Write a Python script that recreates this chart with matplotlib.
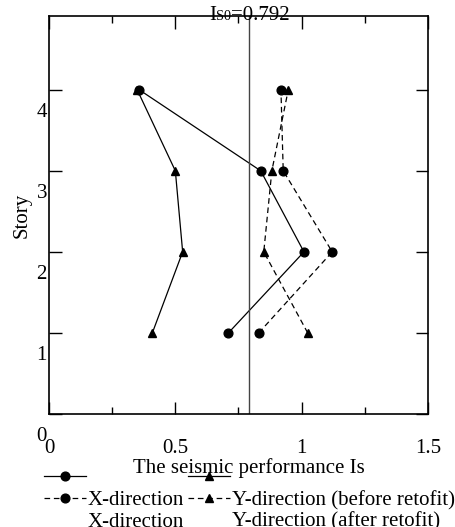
import matplotlib
matplotlib.use("Agg")
import matplotlib.pyplot as plt
from matplotlib.lines import Line2D
from matplotlib.transforms import ScaledTranslation, blended_transform_factory
from matplotlib.offsetbox import TextArea, HPacker, AnnotationBbox

plt.rcParams['font.family'] = ['Liberation Serif', 'DejaVu Serif']

# ---- data ----
stories = [1, 2, 3, 4]
x_before = [0.830, 1.121, 0.927, 0.918]
y_before = [1.024, 0.850, 0.882, 0.947]
x_after = [0.710, 1.009, 0.838, 0.357]
y_after = [0.409, 0.529, 0.500, 0.349]
is0 = 0.792
xtick_major = [0, 0.5, 1, 1.5]
xtick_labels = ["0", "0.5", "1", "1.5"]
xtick_minor = [0.25, 0.75, 1.25]
ytick_vals = [0, 1, 2, 3, 4]
ytick_labels = ["0", "1", "2", "3", "4"]

FS = 15

fig = plt.figure(figsize=(4.56, 5.27), dpi=100)
ax = fig.add_axes([49/456, 113/527, 379/456, 398/527])
ax.set_xlim(0, 1.5)
ax.set_ylim(0, 4.91)

ms = 6.3
lw = 0.9
dash = (0, (4.5, 3))
h1, = ax.plot(x_after, stories, color='black', lw=lw, marker='o', ms=ms)
h2, = ax.plot(y_after, stories, color='black', lw=lw, marker='^', ms=ms)
h3, = ax.plot(x_before, stories, color='black', lw=lw, ls=dash, marker='o', ms=ms)
h4, = ax.plot(y_before, stories, color='black', lw=lw, ls=dash, marker='^', ms=ms)

ax.axvline(is0, color='#444444', lw=1.0)

# title Is0
parts = HPacker(children=[TextArea("I", textprops=dict(fontsize=FS)),
                          TextArea("S0", textprops=dict(fontsize=FS*0.68)),
                          TextArea("=0.792", textprops=dict(fontsize=FS))],
                align="baseline", pad=0, sep=0)
ab = AnnotationBbox(parts, (is0, 1.0), xycoords=('data', 'axes fraction'),
                    box_alignment=(0.5, 0.5), frameon=False, pad=0)
ax.add_artist(ab)

for s in ax.spines.values():
    s.set_linewidth(1.2)

ax.set_xticks(xtick_major)
ax.set_xticklabels(xtick_labels, fontsize=FS)
ax.set_xticks(xtick_minor, minor=True)
ax.tick_params(axis='x', which='major', direction='in', length=9, width=1.0,
               top=True, pad=18)
ax.tick_params(axis='x', which='minor', direction='in', length=5, width=1.0, top=True)

ax.set_yticks(ytick_vals)
ax.set_yticklabels([])
ax.tick_params(axis='y', which='major', direction='in', length=9, width=1.0, right=True)
trans = blended_transform_factory(ax.transAxes, ax.transData) + \
    ScaledTranslation(-0.02, -0.225, fig.dpi_scale_trans)
for v, lab in zip(ytick_vals, ytick_labels):
    ax.text(0, v, lab, transform=trans, ha='right', va='center', fontsize=FS)

ax.set_ylabel("Story", fontsize=FS, va='center')
ax.yaxis.set_label_coords(-27/379, 0.5)
fig.text(249/456, 1 - 468/527, "The seismic performance Is", ha='center', va='center',
         fontsize=FS)

blank = Line2D([], [], color='none')
handles = [h1, h3, blank, h2, h4, blank]
labels = [" ", "X-direction", "X-direction", " ", "Y-direction (before retofit)",
          "Y-direction (after retofit)"]
leg = fig.legend(handles, labels, ncol=2, loc='upper left',
                 bbox_to_anchor=(44/456, 1 - 469/527), frameon=False, fontsize=FS,
                 handlelength=2.0, handletextpad=0.1, columnspacing=0.2,
                 labelspacing=0.1, borderpad=0, borderaxespad=0)

fig.savefig("out.png", dpi=100)
